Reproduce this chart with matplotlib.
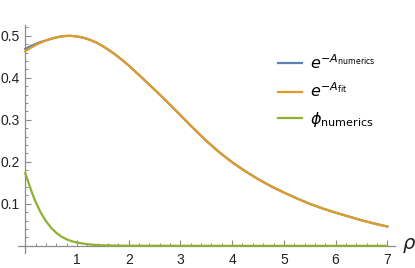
import matplotlib
matplotlib.use("Agg")
import matplotlib.pyplot as plt
from matplotlib.ticker import FixedLocator

# ---- data ----
rho_fit = [0.0, 0.125, 0.25, 0.375, 0.5, 0.625, 0.75, 0.875, 1.0, 1.125, 1.25,
           1.375, 1.5, 1.625, 1.75, 1.875, 2.0, 2.25, 2.5, 2.75, 3.0, 3.25, 3.5,
           3.75, 4.0, 4.25, 4.5, 4.75, 5.0, 5.25, 5.5, 5.75, 6.0, 6.25, 6.5,
           6.75, 7.0]
expA_fit = [0.463, 0.473, 0.481, 0.488, 0.493, 0.497, 0.4995, 0.5, 0.4985, 0.4955,
            0.4905, 0.484, 0.4755, 0.4655, 0.4545, 0.4425, 0.4295, 0.401, 0.372,
            0.342, 0.311, 0.280, 0.250, 0.223, 0.199, 0.178, 0.159, 0.142, 0.127,
            0.113, 0.100, 0.089, 0.079, 0.070, 0.061, 0.053, 0.046]

rho_num = [0.0, 0.1, 0.2, 0.3, 0.375, 0.5, 0.625, 0.75, 0.875, 1.0, 1.125, 1.25,
           1.375, 1.5, 1.625, 1.75, 1.875, 2.0, 2.25, 2.5, 2.75, 3.0, 3.25, 3.5,
           3.75, 4.0, 4.25, 4.5, 4.75, 5.0, 5.25, 5.5, 5.75, 6.0, 6.25, 6.5,
           6.75, 7.0]
expA_num = [0.469, 0.4755, 0.4805, 0.4855, 0.488, 0.493, 0.497, 0.4995, 0.5, 0.4985,
            0.4955, 0.4905, 0.484, 0.4755, 0.4655, 0.4545, 0.4425, 0.4295, 0.401,
            0.372, 0.342, 0.311, 0.280, 0.250, 0.223, 0.199, 0.178, 0.159, 0.142,
            0.127, 0.113, 0.100, 0.089, 0.079, 0.070, 0.061, 0.053, 0.046]

rho_phi = [0.0, 0.05, 0.1, 0.15, 0.2, 0.3, 0.4, 0.5, 0.6, 0.7, 0.8, 0.9, 1.0,
           1.2, 1.4, 1.7, 2.0, 3.0, 4.0, 5.0, 6.0, 7.0]
phi_num = [0.173, 0.155, 0.137, 0.120, 0.105, 0.079, 0.059, 0.043, 0.031, 0.022,
           0.0155, 0.011, 0.0078, 0.0038, 0.0018, 0.0007, 0.0003, 0.0001, 0.0,
           0.0, 0.0, 0.0]

x_major = [1, 2, 3, 4, 5, 6, 7]
y_major = [0.1, 0.2, 0.3, 0.4, 0.5]
y_labels = ["0.1", "0.2", "0.3", "0.4", "0.5"]

labels = [r"$e^{-A_{\mathrm{numerics}}}$", r"$e^{-A_{\mathrm{fit}}}$",
          r"$\phi_{\mathrm{numerics}}$"]
colors = ["#5E81B5", "#E19C24", "#8FB032"]

plt.rcParams["font.family"] = ["Liberation Sans", "DejaVu Sans"]
plt.rcParams["mathtext.fontset"] = "dejavusans"

fig = plt.figure(figsize=(4.15, 2.68), dpi=100)
ax = fig.add_axes([0.0434, 0.056, 0.9086, 0.851])

l1, = ax.plot(rho_num, expA_num, color=colors[0], lw=1.6, zorder=3)
l2, = ax.plot(rho_fit, expA_fit, color=colors[1], lw=1.6, zorder=4)
l3, = ax.plot(rho_phi, phi_num, color=colors[2], lw=1.6, zorder=5)

ax.set_xlim(-0.14, 7.15)
ax.set_ylim(-0.017, 0.526)

axcol = "#8c8c8c"
for s in ["top", "right"]:
    ax.spines[s].set_visible(False)
ax.spines["left"].set_position(("data", 0))
ax.spines["bottom"].set_position(("data", 0))
for s in ["left", "bottom"]:
    ax.spines[s].set_color(axcol)
    ax.spines[s].set_linewidth(0.9)

ax.xaxis.set_major_locator(FixedLocator(x_major))
ax.xaxis.set_minor_locator(FixedLocator([i * 0.2 for i in range(1, 36) if i % 5 != 0]))
ax.yaxis.set_major_locator(FixedLocator(y_major))
ax.set_yticklabels(y_labels)
ax.yaxis.set_minor_locator(FixedLocator([i * 0.02 for i in range(1, 27) if i % 5 != 0]))

ax.tick_params(axis="both", which="major", direction="in", length=4.5, width=0.8,
               color=axcol, labelsize=10, labelcolor="#222222")
ax.tick_params(axis="both", which="minor", direction="in", length=2.5, width=0.7,
               color=axcol)
ax.tick_params(axis="x", which="major", pad=5)
ax.tick_params(axis="y", which="major", pad=4)

ax.text(7.28, 0.0, r"$\rho$", fontsize=14, va="center", ha="left", clip_on=False,
        color="#222222")

leg = ax.legend([l1, l2, l3], labels, loc="upper left",
                bbox_to_anchor=(264 / 415, 1 - 39 / 268), bbox_transform=fig.transFigure,
                frameon=False, fontsize=11.5, handlelength=1.45, handletextpad=0.5,
                labelspacing=0.6)
for h in leg.get_lines():
    h.set_linewidth(1.6)

fig.savefig("out.png", dpi=100)
